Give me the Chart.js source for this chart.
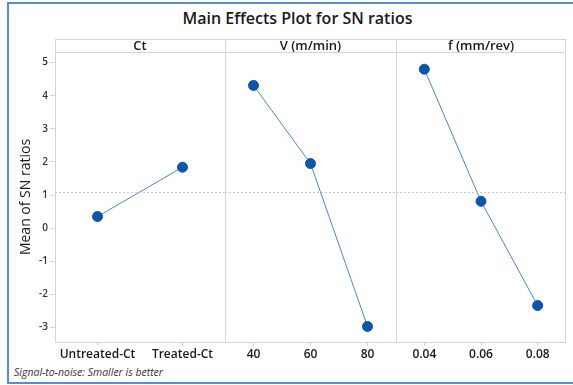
<!DOCTYPE html>
<html>
<head>
<meta charset="utf-8">
<script src="https://cdn.jsdelivr.net/npm/chart.js@4.4.1/dist/chart.umd.min.js"></script>
<style>
  body { margin: 0; width: 573px; height: 385px; background: #fff; position: relative; overflow: hidden; font-family: "Open Sans", sans-serif; }
  #frame { position: absolute; left: 7px; top: 2px; width: 600px; height: 378px; border-left: 2px solid #5a8ccf; border-top: 2px solid #5a8ccf; border-bottom: 2px solid #5a8ccf; }
  #title { position: absolute; left: 0; width: 595px; top: 7px; text-align: center; font-size: 16px; font-weight: 600; color: #1a1a1a; }
  #note { position: absolute; left: 14px; top: 365px; font-size: 10.5px; font-style: italic; color: #333; }
  canvas { position: absolute; top: 39px; }
</style>
</head>
<body>
<div id="frame"></div>
<div id="title">Main Effects Plot for SN ratios</div>
<canvas id="ctChart" width="225" height="325" style="left:0px"></canvas>
<canvas id="vChart" width="171" height="325" style="left:225px"></canvas>
<canvas id="fChart" width="170" height="325" style="left:396px"></canvas>
<div id="note">Signal-to-noise: Smaller is better</div>
<script>
const ctLevels = ["Untreated-Ct", "Treated-Ct"];
const ctMeans = [0.35, 1.84];
const vLevels = ["40", "60", "80"];
const vMeans = [4.31, 1.95, -2.97];
const fLevels = ["0.04", "0.06", "0.08"];
const fMeans = [4.8, 0.81, -2.34];
const grandMean = 1.09;
const yTicks = [-3, -2, -1, 0, 1, 2, 3, 4, 5];
const yMin = -3.44;
const yMax = 5.32;

const borderColor = "#d4d4d4";

// panel frame, header strip and dashed grand-mean line
const panelPlugin = {
  id: "panel",
  afterDraw(chart, args, opts) {
    const { ctx, chartArea } = chart;
    const { left, right, top, bottom } = chartArea;
    const y = chart.scales.y.getPixelForValue(grandMean);
    ctx.save();
    ctx.strokeStyle = "#c8c8c8";
    ctx.lineWidth = 1;
    ctx.setLineDash([2, 2]);
    ctx.beginPath();
    ctx.moveTo(left, Math.round(y) + 0.5);
    ctx.lineTo(right, Math.round(y) + 0.5);
    ctx.stroke();
    ctx.setLineDash([]);
    ctx.strokeStyle = borderColor;
    ctx.beginPath();
    ctx.moveTo(left + 0.5, 0.5);
    ctx.lineTo(left + 0.5, bottom + 0.5);
    ctx.moveTo(left, 0.5);
    ctx.lineTo(right, 0.5);
    ctx.moveTo(left, top + 0.5);
    ctx.lineTo(right, top + 0.5);
    ctx.moveTo(left, bottom + 0.5);
    ctx.lineTo(right, bottom + 0.5);
    if (opts.last) {
      ctx.moveTo(right - 0.5, 0.5);
      ctx.lineTo(right - 0.5, bottom + 0.5);
    }
    ctx.stroke();
    ctx.fillStyle = "#1a1a1a";
    ctx.font = "600 13px 'Open Sans'";
    ctx.textAlign = "center";
    ctx.textBaseline = "middle";
    ctx.fillText(opts.header, (left + right) / 2, top / 2 + 0.5);
    ctx.restore();
  },
};

function makeChart(id, labels, values, header, showY, last) {
  return new Chart(document.getElementById(id), {
    type: "line",
    data: {
      labels: labels,
      datasets: [
        {
          data: values,
          borderColor: "#4a86c8",
          borderWidth: 1,
          pointBackgroundColor: "#0a56a8",
          pointBorderColor: "#0a56a8",
          pointRadius: 5,
          tension: 0,
        },
      ],
    },
    options: {
      responsive: false,
      animation: false,
      layout: { autoPadding: false, padding: { top: 13, left: 0, right: 0, bottom: 0 } },
      plugins: {
        legend: { display: false },
        tooltip: { enabled: false },
        panel: { header: header, last: last },
      },
      scales: {
        x: {
          offset: true,
          border: { display: false },
          grid: { display: true, drawOnChartArea: false, drawTicks: true, tickLength: 4, color: borderColor, offset: false },
          ticks: { padding: 1, color: "#1a1a1a", font: { family: "Open Sans", size: 12, weight: "600" }, maxRotation: 0, autoSkip: false },
          afterFit(scale) { scale.height = 22; },
        },
        y: {
          display: showY ? true : false,
          min: yMin,
          max: yMax,
          border: { display: false },
          grid: { display: true, drawOnChartArea: false, drawTicks: true, tickLength: 5, color: borderColor },
          ticks: { padding: 2, color: "#333", font: { family: "Open Sans", size: 10, weight: "600" } },
          afterBuildTicks(scale) { scale.ticks = yTicks.map((v) => ({ value: v })); },
          afterFit(scale) { if (showY) scale.width = 55; },
          title: {
            display: showY,
            text: "Mean of SN ratios",
            color: "#1a1a1a",
            font: { family: "Open Sans", size: 14 },
            padding: { top: 18, bottom: 0 },
          },
        },
      },
    },
    plugins: [panelPlugin],
  });
}

makeChart("ctChart", ctLevels, ctMeans, "Ct", true, false);
makeChart("vChart", vLevels, vMeans, "V (m/min)", false, false);
makeChart("fChart", fLevels, fMeans, "f (mm/rev)", false, true);
</script>
</body>
</html>
